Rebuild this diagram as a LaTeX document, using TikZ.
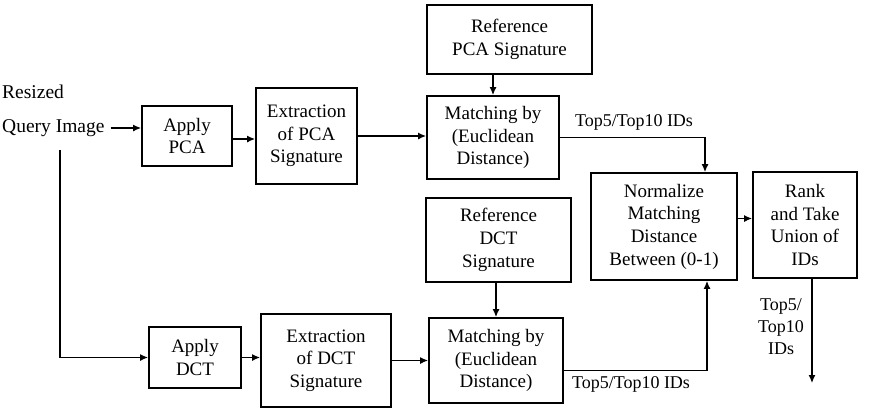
\documentclass[tikz,border=0pt]{standalone}
\usepackage{fontspec}
\setmainfont{Liberation Serif}
\usepackage{tikz}
\usetikzlibrary{calc,arrows.meta,positioning}
\tikzset{
  ar/.style={-{Latex[length=8pt,width=7pt]},line width=1.3pt,black},
  ln/.style={line width=1.3pt,black},
  box/.style={draw=black,line width=1.8pt,align=center,inner sep=2pt,font=\fontsize{19}{22.7}\selectfont},
  lbl/.style={align=center,inner sep=0pt,font=\fontsize{18}{22}\selectfont}
}
\begin{document}
\begin{tikzpicture}[x=1pt,y=-1pt]
\useasboundingbox (0,0) rectangle (869,408);
% upper branch
\node[lbl,anchor=west,font=\fontsize{19.5}{22}\selectfont] (resized) at (2,92) {Resized};
\node[lbl,anchor=west,font=\fontsize{19.5}{22}\selectfont] (query) at (2,128) {Query Image};
\node[box,minimum width=90,minimum height=60] (pca) at (187,136) {Apply\\PCA};
\node[box,minimum width=101,minimum height=96] (extpca) at (306.5,136) {Extraction\\of PCA\\Signature};
\node[box,line width=1.3pt,minimum width=165,minimum height=69] (refpca) at (509.5,39.5) {Reference\\PCA Signature};
\node[box,minimum width=132,minimum height=83] (matpca) at (493,137.5) {Matching by\\(Euclidean\\Distance)};
% lower branch
\node[box,minimum width=92,minimum height=61] (dct) at (195,357.5) {Apply\\DCT};
\node[box,minimum width=130,minimum height=93] (extdct) at (326,360.5) {Extraction\\of DCT\\Signature};
\node[box,minimum width=145,minimum height=84] (refdct) at (498.5,240) {Reference\\DCT\\Signature};
\node[box,minimum width=134,minimum height=85] (matdct) at (496,360.5) {Matching by\\(Euclidean\\Distance)};
% fusion
\node[box,minimum width=146,minimum height=107] (norm) at (664,226.5) {Normalize\\Matching\\Distance\\Between (0-1)};
\node[box,minimum width=104,minimum height=106] (rank) at (805,225) {Rank\\and Take\\Union of\\IDs};
\coordinate (split) at (60,150);
\coordinate (out) at (812,383);
% connectors
\draw[ar] ([xshift=6pt]query.east) -- (query.east -| pca.west);
\draw[ln] (split) -- (split |- dct.west);
\draw[ar] (split |- dct.west) -- (dct.west);
\draw[ar] ([yshift=-3pt]pca.east) -- ([yshift=-3pt]pca.east -| extpca.west);
\draw[ar] (extpca.east) -- (extpca.east -| matpca.west);
\draw[ar] (refpca.south -| matpca.north) -- (matpca.north);
\draw[ar] (dct.east) -- (dct.east -| extdct.west);
\draw[ar] (extdct.east) -- (extdct.east -| matdct.west);
\draw[ar] (refdct.south -| matdct.north) -- (matdct.north);
\draw[ar] (matpca.east) -| ([xshift=41pt]norm.north);
\draw[ar] ([yshift=-10pt]matdct.east) -| ([xshift=43pt]norm.south);
\draw[ar] ([yshift=8pt]norm.east) -- ([yshift=8pt]norm.east -| rank.west);
\draw[ar] ([xshift=7pt]rank.south) -- (out);
\node[lbl] (idpca) at (634,122) {Top5/Top10 IDs};
\node[lbl] (iddct) at (631,384) {Top5/Top10 IDs};
\node[lbl] (idout) at (781,327) {Top5/\\Top10\\IDs};
\end{tikzpicture}
\end{document}
